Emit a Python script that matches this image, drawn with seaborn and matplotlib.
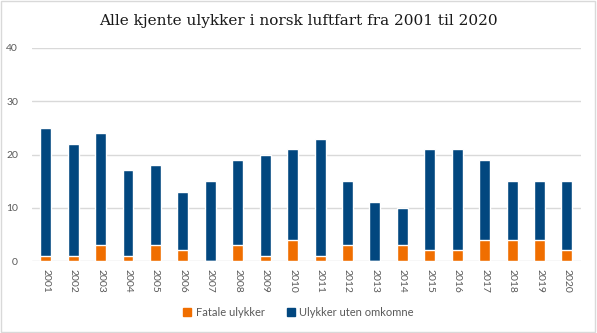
import matplotlib
matplotlib.use("Agg")
import matplotlib.pyplot as plt
from matplotlib.patches import Patch, Rectangle
import seaborn as sns
import pandas as pd

years = [str(y) for y in range(2001, 2021)]
fatale = [1, 1, 3, 1, 3, 2, 0, 3, 1, 4, 1, 3, 0, 3, 2, 2, 4, 4, 4, 2]
uten_omkomne = [24, 21, 21, 16, 15, 11, 15, 16, 19, 17, 22, 12, 11, 7, 19, 19, 15, 11, 11, 13]

title = "Alle kjente ulykker i norsk luftfart fra 2001 til 2020"
label_fatal = "Fatale ulykker"
label_other = "Ulykker uten omkomne"

orange = "#F06E00"
blue = "#02477F"
text_grey = "#595959"
grid_grey = "#D9D9D9"

df = pd.DataFrame({
    "year": years,
    "fatal": fatale,
    "other": uten_omkomne,
})
df["total"] = df["fatal"] + df["other"]

sns.set_style("white")
plt.rcParams["font.family"] = ["Lato", "DejaVu Sans"]

fig = plt.figure(figsize=(5.97, 3.33), dpi=100)
ax = fig.add_axes([0.0536, 0.216, 0.919, 0.640])

# Stacked: total height in blue, fatal part drawn over the base in orange
sns.barplot(data=df, x="year", y="total", color=blue, width=0.4,
            saturation=1, ax=ax, zorder=3)
sns.barplot(data=df, x="year", y="fatal", color=orange, width=0.4,
            saturation=1, ax=ax, zorder=4)

ax.set_ylim(0, 40)
ax.set_yticks([0, 10, 20, 30, 40])
ax.set_xlim(-0.5, len(years) - 0.5)
ax.set_xlabel("")
ax.set_ylabel("")
ax.grid(axis="y", color=grid_grey, linewidth=1, zorder=0)
ax.grid(axis="x", visible=False)
for s in ax.spines.values():
    s.set_visible(False)
ax.tick_params(axis="both", length=0, labelsize=7.5, labelcolor=text_grey)
ax.tick_params(axis="y", pad=10)
ax.tick_params(axis="x", pad=6)
plt.setp(ax.get_xticklabels(), rotation=-90, va="top", ha="center")

fig.text(0.5, 0.937, title, ha="center", va="center", fontsize=11,
         family=["DejaVu Serif"], color="#1a1a1a")

handles = [Patch(color=orange, label=label_fatal),
           Patch(color=blue, label=label_other)]
fig.legend(handles=handles, loc="center", bbox_to_anchor=(0.5, 0.062),
           ncol=2, frameon=False, fontsize=8, labelcolor=text_grey,
           handlelength=0.7, handleheight=0.7, handletextpad=0.4,
           columnspacing=2.0)

fig.patches.append(Rectangle((0.002, 0.003), 0.995, 0.994,
                             transform=fig.transFigure, fill=False,
                             edgecolor="#D9D9D9", linewidth=1))

fig.savefig("out.png", dpi=100, facecolor="white")
